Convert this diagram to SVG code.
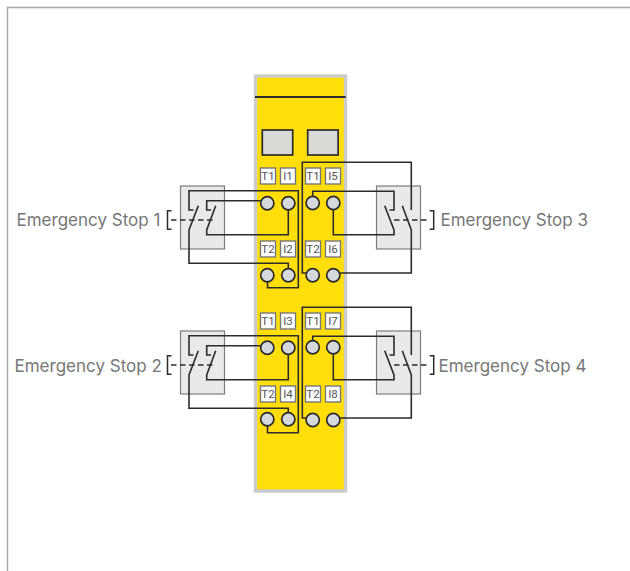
<svg xmlns="http://www.w3.org/2000/svg" width="630" height="571" viewBox="0 0 630 571">
<style>
.frame{fill:none;stroke:#a8a8a8;stroke-width:1.4}
.tag{fill:#fff;stroke:#777;stroke-width:1.4}
.tagt{font-family:"Roboto","Liberation Sans",sans-serif;font-size:11.5px;fill:#555;text-anchor:middle}
.term{fill:#d5d9db;stroke:#2b2b2b;stroke-width:1.7}
.box{fill:#e9e9e9;stroke:#7d7d7d;stroke-width:1.2}
.w{fill:none;stroke:#2b2b2b;stroke-width:1.6;stroke-linejoin:miter}
.d{fill:none;stroke:#2b2b2b;stroke-width:1.3;stroke-dasharray:5.500 3.500}
.b{fill:none;stroke:#2b2b2b;stroke-width:1.5}
.lbl{font-family:"Inter","Liberation Sans",sans-serif;font-size:17px;fill:#777}
.led{fill:#d9d9d6;stroke:#2b2b2b;stroke-width:1.7}
</style>
<path class="frame" d="M7.500 571V7.500H630"/>
<g id="module">
<rect x="255.500" y="76" width="90" height="415" fill="#ffde0a" stroke="#cbcbcb" stroke-width="3.400"/>
<path d="M255 97H345.700" fill="none" stroke="#2b2b2b" stroke-width="1.800"/>
<rect class="led" x="262.300" y="130" width="30.400" height="25"/>
<rect class="led" x="307.700" y="130" width="30.400" height="25"/>
</g>
<g id="switch-1"><rect class="box" x="180.500" y="186" width="44" height="63"/></g>
<g id="switch-2"><rect class="box" x="180.500" y="331" width="44" height="63"/></g>
<g id="switch-3"><rect class="box" x="376.500" y="186" width="44" height="63"/></g>
<g id="switch-4"><rect class="box" x="376.500" y="331" width="44" height="63"/></g>
<g id="tags">
<g id="t-t1a"><rect class="tag" x="260.500" y="168" width="15" height="16"/><text class="tagt" x="268" y="180.200">T1</text></g>
<g id="t-i1"><rect class="tag" x="280.500" y="168" width="15" height="16"/><text class="tagt" x="288" y="180.200">I1</text></g>
<g id="t-t1b"><rect class="tag" x="305.500" y="168" width="15" height="16"/><text class="tagt" x="313" y="180.200">T1</text></g>
<g id="t-i5"><rect class="tag" x="325.500" y="168" width="15" height="16"/><text class="tagt" x="333" y="180.200">I5</text></g>
<g id="t-t2a"><rect class="tag" x="260.500" y="241" width="15" height="16"/><text class="tagt" x="268" y="253.200">T2</text></g>
<g id="t-i2"><rect class="tag" x="280.500" y="241" width="15" height="16"/><text class="tagt" x="288" y="253.200">I2</text></g>
<g id="t-t2b"><rect class="tag" x="305.500" y="241" width="15" height="16"/><text class="tagt" x="313" y="253.200">T2</text></g>
<g id="t-i6"><rect class="tag" x="325.500" y="241" width="15" height="16"/><text class="tagt" x="333" y="253.200">I6</text></g>
<g id="t-t1c"><rect class="tag" x="260.500" y="313" width="15" height="16"/><text class="tagt" x="268" y="325.200">T1</text></g>
<g id="t-i3"><rect class="tag" x="280.500" y="313" width="15" height="16"/><text class="tagt" x="288" y="325.200">I3</text></g>
<g id="t-t1d"><rect class="tag" x="305.500" y="313" width="15" height="16"/><text class="tagt" x="313" y="325.200">T1</text></g>
<g id="t-i7"><rect class="tag" x="325.500" y="313" width="15" height="16"/><text class="tagt" x="333" y="325.200">I7</text></g>
<g id="t-t2c"><rect class="tag" x="260.500" y="386" width="15" height="16"/><text class="tagt" x="268" y="398.200">T2</text></g>
<g id="t-i4"><rect class="tag" x="280.500" y="386" width="15" height="16"/><text class="tagt" x="288" y="398.200">I4</text></g>
<g id="t-t2d"><rect class="tag" x="305.500" y="386" width="15" height="16"/><text class="tagt" x="313" y="398.200">T2</text></g>
<g id="t-i8"><rect class="tag" x="325.500" y="386" width="15" height="16"/><text class="tagt" x="333" y="398.200">I8</text></g>
</g>
<g id="connectors">
<g id="wires-1">
<path class="w" d="M267.500 281V287.700H298.300V190.700H189V210H193.500M198.300 205.700L189 230V263.300H288.300V270"/>
<path class="w" d="M261 200.700H206.700V210H211M215.700 205.700L206.700 230V234.700H288.300V209"/>
<path class="d" d="M171 220H215"/><path class="b" d="M171.500 210.700H167.500V229.300H171.500"/>
</g>
<g id="wires-2" transform="translate(0 145)">
<path class="w" d="M267.500 280V287.700H298.300V190.700H189V210H193.500M198.300 205.700L189 230V263.300H288.300V268"/>
<path class="w" d="M261 200.700H206.700V210H211M215.700 205.700L206.700 230V234.700H288.300V209"/>
<path class="d" d="M171 220H215"/><path class="b" d="M171.500 210.700H167.500V229.300H171.500"/>
</g>
<g id="wires-3">
<path class="w" d="M306 273H302.300V162.300H411.300V210M402.300 205.700L411.300 230V273H340"/>
<path class="w" d="M312.700 197V191.300H394V210H389.500M384.700 205.700L394 230V234.700H333.300V209"/>
<path class="d" d="M394 220H430"/><path class="b" d="M429.700 210.700H433.700V229.300H429.700"/>
</g>
<g id="wires-4" transform="translate(0 145)">
<path class="w" d="M306 273H302.300V162.300H411.300V210M402.300 205.700L411.300 230V273H340"/>
<path class="w" d="M312.700 197V191.300H394V210H389.500M384.700 205.700L394 230V234.700H333.300V209"/>
<path class="d" d="M394 220H430"/><path class="b" d="M429.700 210.700H433.700V229.300H429.700"/>
</g>
</g>
<g id="terminals">
<circle class="term" cx="267.300" cy="203.300" r="6.600"/><circle class="term" cx="288.300" cy="203.300" r="6.600"/>
<circle class="term" cx="312.700" cy="203" r="6.600"/><circle class="term" cx="333.300" cy="203" r="6.600"/>
<circle class="term" cx="267.300" cy="275.300" r="6.600"/><circle class="term" cx="288.300" cy="275.300" r="6.600"/>
<circle class="term" cx="312.700" cy="275.300" r="6.600"/><circle class="term" cx="333.300" cy="275.300" r="6.600"/>
<circle class="term" cx="267.300" cy="347.700" r="6.600"/><circle class="term" cx="288.300" cy="347.700" r="6.600"/>
<circle class="term" cx="312.700" cy="347.300" r="6.600"/><circle class="term" cx="333.300" cy="347.300" r="6.600"/>
<circle class="term" cx="267.300" cy="419.300" r="6.600"/><circle class="term" cx="288.300" cy="419.300" r="6.600"/>
<circle class="term" cx="312.700" cy="420" r="6.600"/><circle class="term" cx="333.300" cy="420" r="6.600"/>
</g>
<g id="labels">
<text class="lbl" x="16.500" y="226">Emergency Stop 1</text>
<text class="lbl" x="14.500" y="372">Emergency Stop 2</text>
<text class="lbl" x="440.500" y="226">Emergency Stop 3</text>
<text class="lbl" x="438.500" y="372">Emergency Stop 4</text>
</g>
</svg>
